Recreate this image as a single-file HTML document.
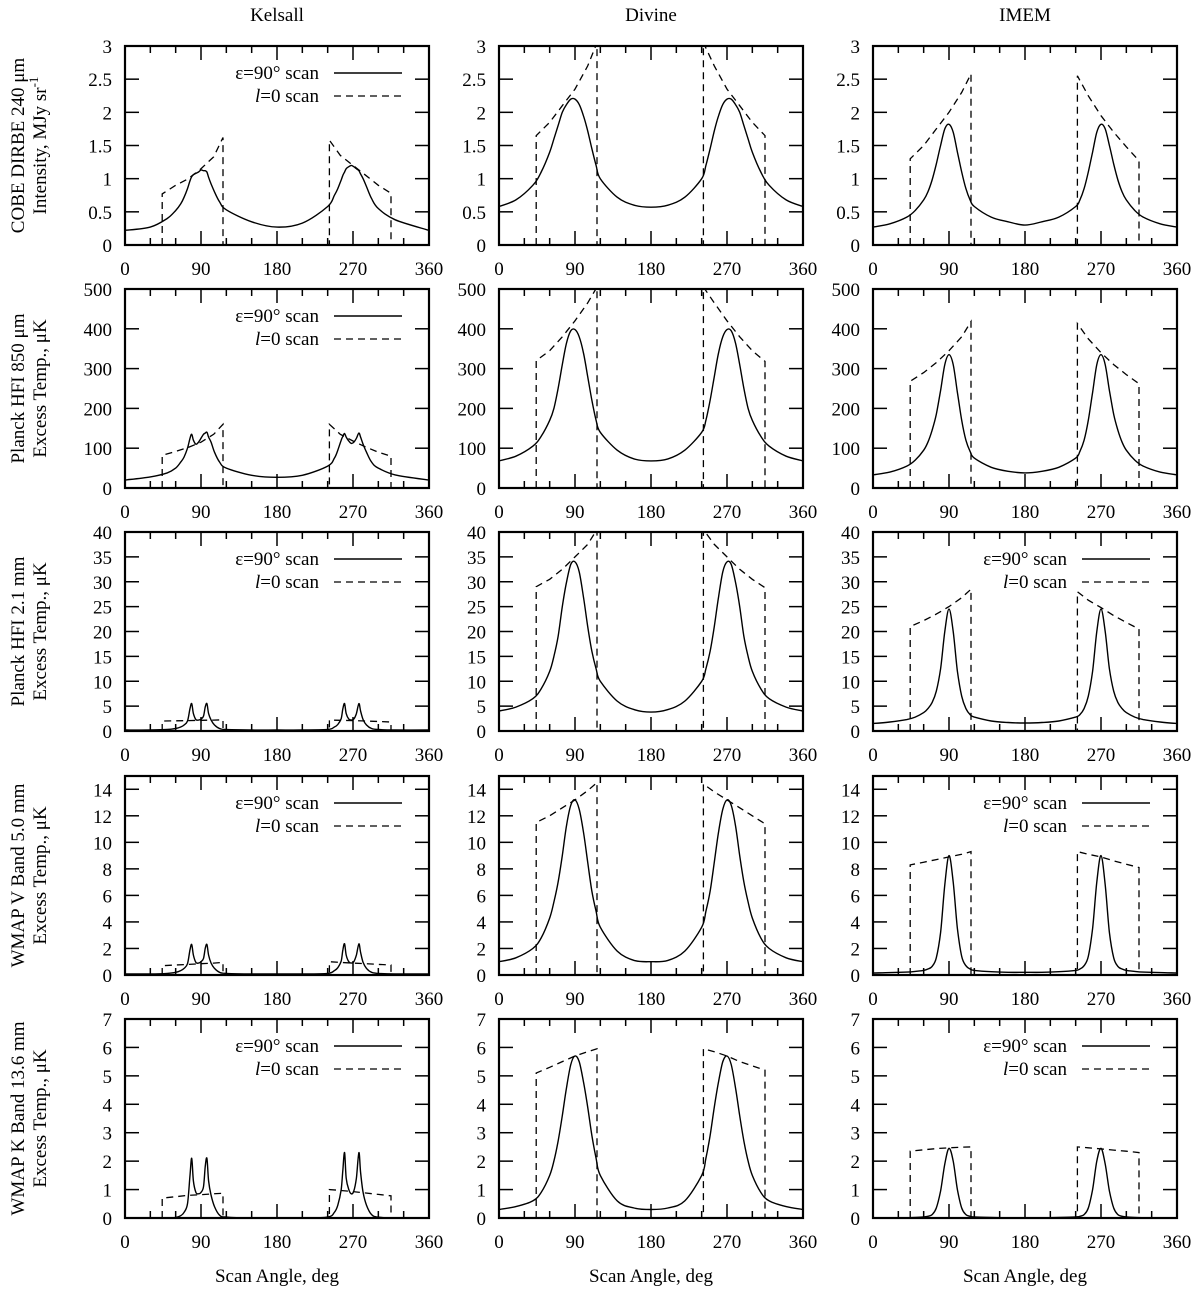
<!DOCTYPE html>
<html><head><meta charset="utf-8"><style>
body{margin:0;background:#fff}
svg text{font-family:"Liberation Serif",serif;font-size:19px;fill:#000}
</style></head><body>
<svg id="c" width="1200" height="1289" xmlns="http://www.w3.org/2000/svg"></svg>
<script>
const GK=[0,30,50,60,66,70,74,77,79,81,84,87,90,93,95,97,99,102,106,112,120,150,180,210,240,248,252,256,258,260,262,265,268,271,274,277,279,282,286,292,300,320,360];
const G=[0,20,40,50,60,65,70,75,80,85,90,95,100,105,110,115,120,140,160,180,200,220,240,245,250,255,260,265,270,275,280,285,290,295,300,310,320,340,360];
const DA=[44,44,60,75,90,105,116,116,242,242,255,270,285,300,315,315];
const colTitles=["Kelsall","Divine","IMEM"];
const rowLabel1=["COBE DIRBE 240 μm","Planck HFI 850 μm","Planck HFI 2.1 mm","WMAP V Band 5.0 mm","WMAP K Band 13.6 mm"];
const rowLabel2=["Intensity, MJy sr","Excess Temp., μK","Excess Temp., μK","Excess Temp., μK","Excess Temp., μK"];
const yMax=[3,500,40,15,7];
const yStep=[0.5,100,5,2,1];
const xTicks=[0,90,180,270,360];
// Kelsall solid
const kel1=[0.22,0.27,0.4,0.52,0.62,0.72,0.85,0.97,1.03,1.06,1.08,1.1,1.13,1.12,1.12,1.1,1.02,0.92,0.8,0.65,0.53,0.35,0.27,0.33,0.58,0.75,0.85,0.98,1.05,1.1,1.15,1.18,1.2,1.18,1.15,1.12,1.07,1.0,0.88,0.7,0.55,0.38,0.22];
const kel2=[20,28,38,50,65,78,100,125,135,120,110,115,125,135,138,140,128,115,90,65,50,32,27,32,55,75,95,120,130,137,128,118,112,115,125,138,128,110,90,65,50,33,20];
const kel3=[0.2,0.2,0.3,0.5,0.8,1.2,2,4.5,5.5,3.5,2.3,2.2,2.4,3,4.8,5.5,3.5,2.2,1.2,0.5,0.3,0.2,0.2,0.2,0.3,0.8,1.3,2.5,4.5,5.5,3.5,2.4,2.2,2.4,3.5,5.5,4,2.3,1.2,0.5,0.3,0.2,0.2];
const kel4=[0.08,0.08,0.12,0.2,0.33,0.5,0.85,1.9,2.3,1.5,0.95,0.9,1.0,1.25,2.0,2.3,1.5,0.9,0.5,0.2,0.12,0.08,0.08,0.08,0.12,0.33,0.55,1.05,1.9,2.35,1.5,1.0,0.9,1.0,1.5,2.35,1.7,0.95,0.5,0.2,0.12,0.08,0.08];
const kel5=[0,0,0,0.02,0.08,0.2,0.5,1.5,2.1,1.3,0.9,0.85,0.9,1.1,1.8,2.1,1.3,0.8,0.4,0.1,0.03,0,0,0,0.03,0.2,0.45,1.0,1.7,2.3,1.4,1.0,0.85,0.95,1.4,2.3,1.6,0.9,0.45,0.12,0.03,0,0];
// Divine solid
const div1=[0.58,0.68,0.9,1.1,1.4,1.6,1.8,2.0,2.12,2.2,2.2,2.12,1.95,1.72,1.45,1.2,1.0,0.72,0.6,0.57,0.6,0.72,1.0,1.2,1.45,1.72,1.95,2.12,2.2,2.2,2.12,2.0,1.8,1.6,1.4,1.1,0.9,0.68,0.58];
const div2=[68,80,105,130,170,200,250,310,365,395,398,380,340,280,220,170,140,95,73,68,73,95,140,170,220,280,340,380,398,395,365,310,250,200,170,130,105,80,68];
const div3=[4,4.8,6.5,8.5,12,15,19,25,30,33.5,34,32,27,21,16,12.5,10,6,4.3,3.8,4.3,6,10,12.5,16,21,27,32,34,33.5,30,25,19,15,12,8.5,6.5,4.8,4];
const div4=[1,1.3,2,2.8,4.3,5.5,7,9,11.3,12.8,13.2,12.5,10.8,8.5,6.3,4.8,3.6,1.8,1.1,1.0,1.1,1.8,3.6,4.8,6.3,8.5,10.8,12.5,13.2,12.8,11.3,9,7,5.5,4.3,2.8,2,1.3,1];
const div5=[0.3,0.4,0.6,0.9,1.5,2,2.7,3.6,4.6,5.4,5.7,5.5,4.8,3.9,2.9,2.1,1.5,0.6,0.35,0.3,0.35,0.6,1.5,2.1,2.9,3.9,4.8,5.5,5.7,5.4,4.6,3.6,2.7,2,1.5,0.9,0.6,0.4,0.3];
// IMEM solid
const ime1=[0.27,0.32,0.42,0.52,0.68,0.8,0.98,1.22,1.5,1.75,1.82,1.7,1.4,1.1,0.85,0.68,0.58,0.42,0.35,0.3,0.35,0.42,0.58,0.68,0.85,1.1,1.4,1.7,1.82,1.75,1.5,1.22,0.98,0.8,0.68,0.52,0.42,0.32,0.27];
const ime2=[33,40,55,70,95,115,145,185,245,310,335,310,240,170,120,92,75,52,42,38,42,52,75,92,120,170,240,310,335,310,245,185,145,115,95,70,55,40,33];
const ime3=[1.5,1.8,2.3,2.8,3.7,4.5,5.7,8,12.5,20,24.5,20,12,7,4.5,3.3,2.8,2,1.7,1.6,1.7,2,2.8,3.3,4.5,7,12,20,24.5,20,12.5,8,5.7,4.5,3.7,2.8,2.3,1.8,1.5];
const ime4=[0.15,0.18,0.22,0.27,0.35,0.45,0.65,1.3,3.2,6.8,9,7,3.5,1.4,0.7,0.45,0.35,0.25,0.2,0.2,0.2,0.25,0.35,0.45,0.7,1.4,3.5,7,9,6.8,3.2,1.3,0.65,0.45,0.35,0.27,0.22,0.18,0.15];
const ime5=[0,0,0.01,0.02,0.04,0.06,0.12,0.35,0.95,1.9,2.45,2.0,1.0,0.35,0.12,0.06,0.04,0.02,0.01,0.01,0.01,0.02,0.04,0.06,0.12,0.35,1.0,2.0,2.45,1.9,0.95,0.35,0.12,0.06,0.04,0.02,0.01,0,0];
// dashed (l=0 scan) on DA
const kelD1=[0,0.77,0.9,1.0,1.15,1.33,1.62,0,0,1.58,1.35,1.2,1.05,0.9,0.78,0];
const kelD2=[0,82,92,102,115,135,160,0,0,160,135,118,103,90,80,0];
const kelD3=[0,2.0,2.05,2.1,2.15,2.2,2.25,0,0,2.2,2.15,2.1,2.0,1.9,1.8,0];
const kelD4=[0,0.7,0.75,0.8,0.85,0.9,0.95,0,0,1.0,0.95,0.9,0.85,0.8,0.75,0];
const kelD5=[0,0.7,0.75,0.8,0.82,0.85,0.87,0,0,1.0,0.97,0.93,0.88,0.83,0.78,0];
const divD1=[0,1.65,1.85,2.1,2.35,2.7,3.05,0,0,3.05,2.7,2.35,2.1,1.85,1.65,0];
const divD2=[0,320,345,380,420,465,505,0,0,505,465,420,380,345,318,0];
const divD3=[0,29,30.5,32.5,35,37.5,40.5,0,0,40.5,37.5,35,32.5,30.5,28.8,0];
const divD4=[0,11.5,12.0,12.6,13.2,13.9,14.5,0,0,14.4,13.8,13.2,12.6,12.0,11.4,0];
const divD5=[0,5.1,5.3,5.5,5.7,5.85,5.95,0,0,5.95,5.85,5.7,5.5,5.35,5.2,0];
const imeD1=[0,1.3,1.5,1.75,2.0,2.3,2.58,0,0,2.55,2.25,1.95,1.7,1.48,1.27,0];
const imeD2=[0,268,290,315,345,380,418,0,0,413,375,340,310,285,262,0];
const imeD3=[0,21,22.2,23.5,25,26.8,28.5,0,0,28,26.3,24.8,23.2,21.8,20.5,0];
const imeD4=[0,8.3,8.5,8.7,8.9,9.1,9.3,0,0,9.3,9.1,8.9,8.6,8.35,8.1,0];
const imeD5=[0,2.35,2.4,2.44,2.47,2.49,2.5,0,0,2.5,2.47,2.43,2.39,2.35,2.3,0];

const solids=[[kel1,div1,ime1],[kel2,div2,ime2],[kel3,div3,ime3],[kel4,div4,ime4],[kel5,div5,ime5]];
const dashes=[[kelD1,divD1,imeD1],[kelD2,divD2,imeD2],[kelD3,divD3,imeD3],[kelD4,divD4,imeD4],[kelD5,divD5,imeD5]];
const colX=[125,499,873], rowY=[46,289,532,776,1019], W=304, H=199;
const NS="http://www.w3.org/2000/svg";
const svg=document.getElementById('c');
function mk(tag,attrs,parent,txt){const e=document.createElementNS(NS,tag);for(const k in attrs)e.setAttribute(k,attrs[k]);if(txt!==undefined)e.textContent=txt;(parent||svg).appendChild(e);return e;}
function smooth(P){
  let d='M'+P[0][0].toFixed(1)+','+P[0][1].toFixed(1);
  for(let i=0;i<P.length-1;i++){
    const p0=P[i-1]||P[i],p1=P[i],p2=P[i+1],p3=P[i+2]||P[i+1];
    const c1x=p1[0]+(p2[0]-p0[0])/6,c1y=p1[1]+(p2[1]-p0[1])/6;
    const c2x=p2[0]-(p3[0]-p1[0])/6,c2y=p2[1]-(p3[1]-p1[1])/6;
    d+=` C${c1x.toFixed(1)},${c1y.toFixed(1)} ${c2x.toFixed(1)},${c2y.toFixed(1)} ${p2[0].toFixed(1)},${p2[1].toFixed(1)}`;
  }
  return d;
}

colTitles.forEach((t,c)=>{
  const e=mk('text',{x:colX[c]+W/2,y:21,'text-anchor':'middle'},svg,t);
  
  
  const a=mk('text',{x:colX[c]+W/2,y:1282,'text-anchor':'middle'},svg,'Scan Angle, deg');
  
  
});
rowLabel1.forEach((t,r)=>{
  const cy=rowY[r]+H/2;
  const g=mk('g',{transform:`translate(0,${cy}) rotate(-90)`});
  
  
  mk('text',{x:0,y:24,'text-anchor':'middle'},g,t);
  const t2=mk('text',{x:0,y:46,'text-anchor':'middle'},g,rowLabel2[r]);
  if(r===0){mk('tspan',{dy:-8,'font-size':'13'},t2,'-1');}
});

for(let r=0;r<5;r++)for(let c=0;c<3;c++){
  const x0=colX[c],y0=rowY[r];
  const xs=a=>x0+a/360*W, ys=v=>y0+H-v/yMax[r]*H;
  const g=mk('g',{});
  
  
  const cid='clip'+r+c;
  const cp=mk('clipPath',{id:cid},g);mk('rect',{x:x0,y:y0,width:W,height:H},cp);
  for(let a=0;a<=360;a+=30){
    const major=a%90===0, L=major?14:7;
    mk('line',{x1:xs(a),x2:xs(a),y1:y0+H,y2:y0+H-L,stroke:'#000','stroke-width':1.5},g);
    mk('line',{x1:xs(a),x2:xs(a),y1:y0,y2:y0+L,stroke:'#000','stroke-width':1.5},g);
  }
  xTicks.forEach(a=>{const e=mk('text',{x:xs(a),y:y0+H+30,'text-anchor':'middle'},g,String(a));
    
    });
  for(let v=0;v<=yMax[r]+1e-9;v+=yStep[r]){
    const y=ys(v);
    mk('line',{x1:x0,x2:x0+14,y1:y,y2:y,stroke:'#000','stroke-width':1.5},g);
    mk('line',{x1:x0+W,x2:x0+W-14,y1:y,y2:y,stroke:'#000','stroke-width':1.5},g);
    const e=mk('text',{x:x0-13,y:y+7,'text-anchor':'end'},g,String(Math.round(v*10)/10));
    
    
  }
  const ang=c===0?GK:G, sv=solids[r][c];
  const sp=mk('path',{d:smooth(ang.map((a,i)=>[xs(a),ys(sv[i])])),fill:'none',stroke:'#000','stroke-width':1.4,'stroke-linejoin':'round','clip-path':`url(#${cid})`},g);
  
  
  const dv=dashes[r][c];
  const dp=mk('polyline',{points:DA.map((a,i)=>xs(a).toFixed(1)+','+ys(dv[i]).toFixed(1)).join(' '),fill:'none',stroke:'#000','stroke-width':1.3,'stroke-dasharray':'7,5','clip-path':`url(#${cid})`},g);
  
  
  mk('rect',{x:x0,y:y0,width:W,height:H,fill:'none',stroke:'#000','stroke-width':2.2},g);
  if(c===0||(c===2&&r>=2)){
    const lg=mk('g',{},g);
    
    
    mk('text',{x:x0+194,y:y0+33,'text-anchor':'end'},lg,'ε=90° scan');
    mk('line',{x1:x0+209,x2:x0+277,y1:y0+27,y2:y0+27,stroke:'#000','stroke-width':1.4},lg);
    const t=mk('text',{x:x0+194,y:y0+56,'text-anchor':'end'},lg);
    mk('tspan',{'font-style':'italic'},t,'l');
    mk('tspan',{},t,'=0 scan');
    mk('line',{x1:x0+209,x2:x0+277,y1:y0+50,y2:y0+50,stroke:'#000','stroke-width':1.3,'stroke-dasharray':'7,5'},lg);
  }
}
</script>
</body></html>
